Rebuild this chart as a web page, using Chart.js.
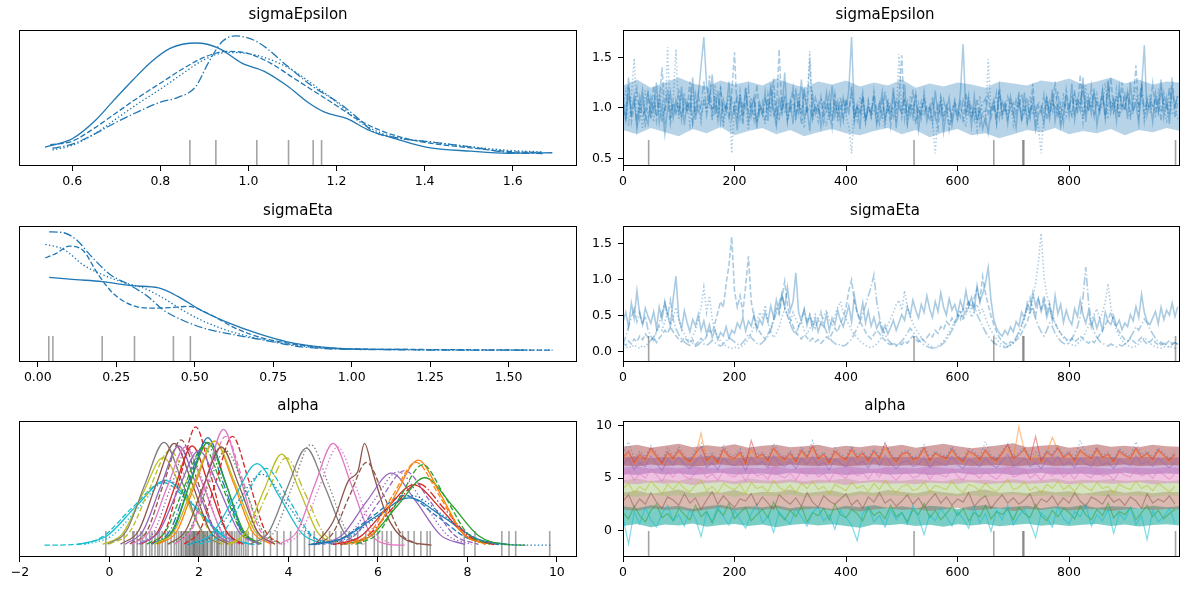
<!DOCTYPE html>
<html>
<head>
<meta charset="utf-8">
<script src="https://cdn.jsdelivr.net/npm/chart.js@4.4.1/dist/chart.umd.min.js"></script>
<style>
body { margin: 0; background: #fff; width: 1189px; height: 590px; overflow: hidden; position: relative; }
canvas { position: absolute; }
</style>
</head>
<body>
<canvas id="kdeEps" width="590" height="196" style="left:0;top:0"></canvas>
<canvas id="traceEps" width="599" height="196" style="left:590px;top:0"></canvas>
<canvas id="kdeEta" width="590" height="196" style="left:0;top:196px"></canvas>
<canvas id="traceEta" width="599" height="196" style="left:590px;top:196px"></canvas>
<canvas id="kdeAlpha" width="590" height="196" style="left:0;top:391px"></canvas>
<canvas id="traceAlpha" width="599" height="196" style="left:590px;top:391px"></canvas>
<script>
// draws kept every 5th iteration for the sigma traces, every 10th for alpha
const traceStep = 5
const alphaStep = 10
const bandStep = 25

const divergences = [46, 522, 665, 717, 719, 991]

const epsChain0 = [1.05,0.88,1.22,0.95,1.12,0.79,1.01,1.18,0.92,0.84, 1.10,0.97,1.25,0.86,1.03,0.74,0.99,1.15,0.90,1.08, 0.95,1.21,0.83,1.06,0.97,1.30,0.88,1.12,1.41,1.70, 1.22,1.05,1.33,0.93,1.17,0.85,1.08,0.96,1.26,0.89, 1.02,0.78,1.14,0.91,1.20,0.86,0.99,1.11,0.80,1.05, 0.93,1.16,0.87,1.24,0.98,0.82,1.09,0.95,1.35,0.90, 1.07,0.84,1.19,0.96,1.28,0.89,1.01,0.77,1.13,0.94, 1.04,0.81,0.97,1.15,0.88,1.22,0.92,1.06,0.85,1.10, 0.96,1.18,1.70,0.90,1.03,0.79,1.12,0.87,1.00,0.93, 1.09,0.83,0.98,1.16,0.86,1.04,0.91,1.20,0.80,1.07, 0.95,1.23,0.84,1.02,0.90,1.13,0.78,0.99,1.08,0.87, 1.01,0.85,1.17,0.92,1.06,0.76,0.97,1.10,0.83,1.00, 0.89,1.14,1.63,0.94,1.05,0.82,1.12,0.88,0.99,0.79, 0.91,0.75,0.98,1.08,0.86,1.18,0.93,1.02,0.84,1.11, 0.96,0.80,1.07,0.89,1.15,0.85,0.97,1.04,0.78,0.93, 1.00,0.84,1.09,0.90,1.18,0.87,1.03,0.81,0.95,1.12, 0.92,1.24,0.88,1.06,0.97,1.30,0.86,1.10,0.94,1.19, 0.83,1.02,1.16,0.90,1.27,0.95,1.08,0.87,1.21,0.99, 1.13,0.89,1.25,0.96,1.05,0.84,1.18,1.62,0.93,1.07, 0.86,1.15,0.98,1.28,0.91,1.09,0.84,1.20,1.02,1.12]
const epsChain1 = [1.12,0.95,1.30,0.86,1.02,1.19,0.90,1.08,0.81,1.14, 0.93,1.22,0.87,1.05,1.40,0.96,1.11,0.84,1.02,0.92, 1.18,0.88,1.06,0.97,1.26,0.85,1.01,1.15,0.91,1.07, 0.98,1.32,0.89,1.12,0.95,1.21,0.87,1.04,0.93,1.15, 1.55,0.91,1.08,0.83,1.19,0.96,1.03,0.88,1.23,0.94, 1.06,0.86,1.14,0.99,1.29,0.90,1.58,0.97,1.10,0.85, 1.03,1.20,0.92,1.08,0.84,1.16,0.95,1.48,0.89,1.02, 0.94,1.11,0.86,1.05,0.98,0.80,1.13,0.91,1.04,0.87, 1.09,0.93,1.21,0.85,1.01,0.96,1.15,0.88,1.06,0.92, 1.17,0.95,0.84,1.10,0.90,1.04,0.82,1.13,0.97,1.08, 1.52,0.89,1.06,0.93,1.18,0.85,1.00,0.91,1.12,0.96, 0.87,1.04,0.95,0.80,1.10,0.90,1.02,0.78,0.96,1.06, 0.92,1.08,0.85,1.15,0.94,1.01,0.88,1.09,0.83,0.96, 0.97,1.12,0.90,1.03,0.84,1.21,0.95,1.07,0.89,1.00, 1.05,0.93,1.16,0.87,0.99,1.10,0.91,1.24,0.86,1.02, 0.95,1.13,0.88,1.06,0.97,1.26,0.90,1.04,0.85,1.18, 1.00,0.93,1.14,0.98,1.33,0.89,1.09,0.96,1.21,0.91, 1.07,0.95,1.18,0.88,1.04,1.30,0.97,1.12,0.90,1.25, 0.98,1.16,0.93,1.07,1.42,0.96,1.20,0.91,1.05,0.99, 1.24,0.94,1.10,0.87,1.15,1.02,0.95,1.30,0.90,1.06]
const epsChain2 = [0.98,1.20,0.82,1.10,1.49,0.93,1.05,0.79,1.17,0.90, 1.03,0.86,1.12,0.95,1.20,0.84,1.60,0.91,1.08,1.58, 0.88,1.14,0.97,1.04,0.83,1.19,0.92,1.01,0.86,1.09, 0.95,1.11,0.87,1.23,0.90,1.06,0.81,0.99,1.13,0.55, 1.07,0.89,1.16,0.93,1.02,0.78,1.10,0.94,0.85,1.04, 0.97,0.83,1.09,0.91,1.18,0.86,1.03,0.95,1.12,0.89, 0.96,1.05,0.88,1.15,0.92,0.80,1.07,1.56,0.94,1.01, 0.87,1.10,0.95,0.82,1.03,0.91,1.14,0.86,0.98,1.06, 0.93,0.81,0.55,1.02,0.88,1.11,0.94,0.84,1.07,0.90, 0.99,0.87,1.05,0.92,0.80,1.09,0.95,1.01,0.86,1.53, 0.91,1.06,0.85,1.12,0.97,0.83,1.04,0.90,1.16,0.94, 1.01,0.88,0.55,0.96,1.10,0.89,1.03,0.82,0.97,1.08, 0.87,1.02,0.93,0.81,1.07,0.90,0.99,0.78,1.12,0.94, 0.85,1.48,0.96,1.05,0.91,1.16,0.88,1.01,0.94,1.10, 0.83,0.97,1.08,0.90,1.03,0.86,1.12,0.93,1.00,0.81, 0.55,0.96,1.06,0.89,1.11,0.94,1.02,0.87,1.15,0.92, 1.03,0.90,1.17,0.95,1.08,0.86,1.22,0.99,1.05,0.91, 1.13,0.96,1.02,1.25,0.89,1.07,0.94,1.18,0.90,1.04, 0.97,1.12,0.88,1.06,1.21,0.93,1.15,0.87,1.09,0.95, 1.04,0.90,1.19,0.96,1.08,0.85,1.13,0.93,1.01,0.89]
const epsChain3 = [1.01,0.87,1.14,0.93,1.06,0.84,1.10,0.91,0.98,1.17, 0.89,1.05,0.94,1.12,0.86,1.00,1.19,0.92,1.07,0.97, 1.03,0.90,1.15,0.96,1.08,0.85,1.13,0.94,1.02,1.27, 0.93,1.10,0.98,1.05,0.88,1.18,0.95,1.03,0.90,1.09, 0.96,1.13,0.89,1.04,0.99,1.20,0.92,1.07,0.86,1.01, 0.94,1.08,0.97,1.16,0.91,1.03,0.87,1.12,0.95,1.06, 0.98,1.14,0.90,1.05,0.93,1.19,0.96,1.02,0.88,1.10, 1.00,0.92,1.07,0.97,1.13,0.89,1.04,0.95,1.11,0.91, 1.06,0.98,1.15,0.90,1.02,0.94,1.09,0.87,1.01,0.96, 1.12,0.93,1.05,0.88,1.17,0.97,1.03,0.91,1.08,1.00, 0.95,1.10,0.92,1.04,0.98,1.14,0.89,1.06,0.94,1.02, 0.97,1.11,0.90,1.03,0.93,1.08,0.96,1.00,0.88,1.05, 0.99,0.91,1.07,0.95,1.13,0.92,1.01,0.87,0.97,1.04, 1.09,0.94,1.02,0.98,1.15,0.90,1.06,0.96,1.11,1.03, 0.93,1.08,1.00,1.14,0.95,1.04,0.91,1.10,0.97,1.06, 1.02,0.96,1.12,0.94,1.07,0.99,1.17,0.92,1.05,1.01, 0.98,1.13,0.95,1.09,1.03,1.20,0.96,1.06,1.00,1.15, 1.04,0.97,1.11,0.94,1.22,1.01,1.08,0.95,1.14,1.02, 0.99,1.16,1.05,0.97,1.10,1.03,1.25,0.98,1.07,1.12, 1.00,1.08,0.95,1.18,1.04,0.99,1.21,1.06,1.01,1.13]
// dense core of the four sigmaEpsilon chains (every 25th draw)
const epsCoreLow = [0.78,0.74,0.80,0.76,0.72,0.79,0.75,0.81,0.73,0.77,0.80,0.74,0.78,0.72,0.76,0.79,0.75,0.73,0.77,0.80,0.74,0.78,0.71,0.76,0.79,0.73,0.75,0.70,0.74,0.78,0.76,0.80,0.74,0.77,0.75,0.79,0.73,0.78,0.76,0.80,0.77]
const epsCoreHigh = [1.22,1.28,1.20,1.25,1.30,1.24,1.21,1.27,1.23,1.26,1.22,1.29,1.24,1.20,1.26,1.23,1.27,1.21,1.25,1.22,1.28,1.20,1.24,1.21,1.25,1.23,1.20,1.26,1.24,1.22,1.27,1.25,1.29,1.23,1.26,1.30,1.24,1.28,1.23,1.26,1.25]

const etaChain0 = [0.42,0.55,0.35,0.68,0.47,0.85,0.52,0.38,0.61,0.49, 0.40,0.56,0.33,0.62,0.45,0.70,0.51,0.36,0.74,1.05, 0.48,0.32,0.57,0.41,0.28,0.45,0.36,0.52,0.30,0.43, 0.25,0.38,0.20,0.31,0.17,0.27,0.22,0.35,0.19,0.30, 0.26,0.40,0.33,0.48,0.29,0.43,0.36,0.52,0.31,0.45, 0.38,0.55,0.42,0.64,0.48,0.72,0.56,0.80,0.62,0.90, 0.58,0.70,1.10,0.55,0.43,0.60,0.37,0.51,0.32,0.46, 0.28,0.41,0.35,0.52,0.30,0.47,0.38,0.58,0.44,0.35, 0.50,0.64,0.42,0.78,0.55,0.46,0.68,0.40,0.57,0.36, 0.48,0.33,0.42,0.28,0.37,0.25,0.34,0.44,0.30,0.41, 0.52,0.44,0.63,0.50,0.72,0.58,0.47,0.66,0.55,0.78, 0.60,0.48,0.70,0.56,0.82,0.62,0.51,0.74,0.58,0.66, 0.52,0.71,0.60,0.85,0.64,0.76,0.58,0.92,0.70,0.81, 0.95,1.17,0.72,0.45,0.33,0.26,0.22,0.30,0.24,0.35, 0.28,0.42,0.36,0.55,0.47,0.68,0.58,0.82,0.64,0.75, 0.56,0.70,0.48,0.62,0.44,0.78,0.53,0.66,0.41,0.58, 0.45,0.38,0.60,0.49,0.72,0.52,0.40,0.57,0.35,0.48, 0.33,0.46,0.30,0.55,0.42,0.38,0.50,0.36,0.44,0.31, 0.40,0.35,0.52,0.43,0.63,0.48,0.80,0.55,0.42,0.38, 0.47,0.56,0.39,0.62,0.45,0.58,0.51,0.68,0.49,0.63]
const etaChain1 = [0.12,0.09,0.15,0.11,0.18,0.14,0.22,0.17,0.25,0.20, 0.16,0.21,0.13,0.19,0.24,0.30,0.26,0.35,0.28,0.22, 0.18,0.14,0.20,0.16,0.12,0.17,0.10,0.14,0.19,0.15, 0.22,0.30,0.26,0.40,0.55,0.70,0.62,0.95,1.20,1.60, 0.85,0.62,0.78,0.55,0.92,1.33,0.70,0.48,0.35,0.28, 0.22,0.18,0.25,0.32,0.45,0.60,0.52,0.75,0.98,0.65, 0.45,0.36,0.28,0.22,0.18,0.24,0.20,0.15,0.19,0.14, 0.17,0.12,0.16,0.21,0.18,0.26,0.33,0.28,0.40,0.48, 0.62,0.85,1.00,0.70,0.55,0.42,0.35,0.28,0.22,0.18, 0.24,0.30,0.26,0.20,0.16,0.12,0.10,0.13,0.09,0.12, 0.10,0.15,0.12,0.18,0.22,0.17,0.14,0.19,0.15,0.20, 0.25,0.21,0.30,0.26,0.35,0.31,0.42,0.38,0.47,0.40, 0.52,0.45,0.60,0.55,0.68,0.62,0.75,0.88,0.70,1.05, 0.82,0.65,0.50,0.38,0.28,0.20,0.15,0.12,0.10,0.14, 0.12,0.16,0.20,0.26,0.35,0.42,0.55,0.62,0.50,0.72, 0.60,0.78,0.55,0.68,0.48,0.40,0.32,0.26,0.22,0.18, 0.15,0.19,0.14,0.17,0.22,0.18,0.15,0.12,0.16,0.13, 0.18,0.24,0.30,0.38,0.45,0.55,0.42,0.35,0.28,0.22, 0.17,0.14,0.19,0.15,0.12,0.16,0.20,0.15,0.11,0.14, 0.18,0.13,0.10,0.14,0.09,0.12,0.16,0.11,0.14,0.10]
const etaChain2 = [0.06,0.05,0.08,0.06,0.10,0.07,0.05,0.09,0.07,0.12, 0.15,0.20,0.28,0.35,0.30,0.42,0.55,0.38,0.47,0.62, 0.45,0.33,0.25,0.18,0.14,0.22,0.30,0.45,0.62,0.90, 0.55,0.78,0.45,0.30,0.21,0.15,0.11,0.08,0.06,0.05, 0.07,0.05,0.06,0.09,0.12,0.18,0.26,0.35,0.42,0.55, 0.48,0.65,0.40,0.28,0.20,0.26,0.35,0.48,0.60,0.52, 0.40,0.55,0.46,0.36,0.42,0.30,0.25,0.33,0.40,0.52, 0.45,0.38,0.48,0.58,0.44,0.36,0.50,0.62,0.70,0.55, 0.46,0.38,0.30,0.24,0.20,0.15,0.12,0.09,0.07,0.06, 0.08,0.11,0.16,0.22,0.30,0.38,0.46,0.55,0.66,0.72, 0.58,0.85,0.62,0.50,0.40,0.32,0.26,0.20,0.15,0.12, 0.09,0.07,0.06,0.08,0.11,0.15,0.20,0.28,0.35,0.42, 0.50,0.58,0.44,0.52,0.61,0.48,0.56,0.66,0.54,0.60, 0.47,0.38,0.30,0.24,0.18,0.13,0.10,0.08,0.07,0.09, 0.12,0.18,0.25,0.35,0.48,0.62,0.52,0.75,0.95,1.25, 1.65,1.05,0.80,0.65,0.52,0.40,0.32,0.25,0.20,0.16, 0.12,0.10,0.08,0.11,0.15,0.20,0.28,0.36,0.45,0.52, 0.60,0.45,0.55,0.70,0.95,0.62,0.42,0.30,0.22,0.16, 0.12,0.09,0.07,0.06,0.08,0.11,0.15,0.20,0.16,0.12, 0.09,0.07,0.06,0.05,0.07,0.06,0.08,0.06,0.05,0.06]
const etaChain3 = [0.10,0.22,0.35,0.48,0.60,0.42,0.55,0.38,0.50,0.30, 0.22,0.16,0.28,0.40,0.55,0.68,0.50,0.72,0.45,0.32, 0.24,0.18,0.14,0.11,0.09,0.12,0.08,0.10,0.14,0.11, 0.09,0.12,0.16,0.13,0.10,0.08,0.11,0.15,0.20,0.17, 0.14,0.11,0.09,0.13,0.18,0.25,0.20,0.16,0.12,0.10, 0.13,0.17,0.22,0.30,0.42,0.55,0.68,0.80,0.62,0.50, 0.38,0.30,0.24,0.35,0.46,0.58,0.42,0.52,0.40,0.33, 0.45,0.56,0.38,0.28,0.20,0.15,0.12,0.09,0.11,0.08, 0.10,0.14,0.18,0.25,0.33,0.42,0.52,0.65,0.78,0.90, 1.07,0.70,0.48,0.33,0.24,0.17,0.13,0.10,0.08,0.11, 0.15,0.20,0.26,0.33,0.28,0.22,0.17,0.13,0.10,0.08, 0.06,0.05,0.07,0.06,0.09,0.12,0.17,0.23,0.30,0.38, 0.46,0.55,0.48,0.62,0.70,0.58,0.66,0.52,0.44,0.36, 0.28,0.22,0.17,0.13,0.10,0.08,0.07,0.06,0.08,0.10, 0.14,0.20,0.28,0.38,0.50,0.62,0.75,0.58,0.46,0.36, 0.28,0.22,0.30,0.40,0.35,0.26,0.20,0.15,0.12,0.10, 0.13,0.18,0.26,0.35,0.50,0.75,1.18,0.68,0.42,0.28, 0.20,0.15,0.12,0.10,0.08,0.11,0.09,0.07,0.10,0.08, 0.11,0.15,0.20,0.27,0.35,0.30,0.38,0.46,0.40,0.32, 0.25,0.19,0.14,0.10,0.12,0.09,0.07,0.10,0.13,0.11]

// kernel density curves, [value, relative density]
const epsKde0 = [[0.538,0.06],[0.6,0.13],[0.651,0.28],[0.694,0.455],[0.737,0.625],[0.779,0.78],[0.822,0.895],[0.882,0.94],[0.933,0.895],[0.985,0.77],[1.036,0.70],[1.087,0.58],[1.138,0.43],[1.173,0.355],[1.224,0.30],[1.275,0.20],[1.335,0.13],[1.403,0.06],[1.506,0.025],[1.591,0.008],[1.69,0.012]]
const epsKde1 = [[0.55,0.08],[0.6,0.11],[0.65,0.22],[0.7,0.35],[0.75,0.48],[0.8,0.60],[0.85,0.72],[0.9,0.82],[0.95,0.87],[1.0,0.85],[1.05,0.77],[1.1,0.65],[1.15,0.53],[1.2,0.41],[1.25,0.29],[1.3,0.20],[1.35,0.14],[1.4,0.10],[1.5,0.055],[1.6,0.02],[1.665,0.015]]
const epsKde2 = [[0.555,0.035],[0.6,0.075],[0.65,0.17],[0.7,0.30],[0.75,0.43],[0.8,0.55],[0.85,0.68],[0.9,0.80],[0.95,0.86],[1.0,0.85],[1.05,0.80],[1.1,0.71],[1.15,0.58],[1.2,0.44],[1.25,0.28],[1.3,0.18],[1.35,0.13],[1.4,0.11],[1.5,0.065],[1.6,0.03],[1.665,0.02]]
const epsKde3 = [[0.555,0.05],[0.6,0.085],[0.65,0.17],[0.7,0.27],[0.75,0.36],[0.8,0.44],[0.84,0.48],[0.88,0.57],[0.91,0.78],[0.94,0.95],[0.97,1.0],[1.02,0.95],[1.087,0.75],[1.147,0.57],[1.207,0.43],[1.25,0.30],[1.284,0.19],[1.335,0.14],[1.42,0.10],[1.506,0.06],[1.59,0.015],[1.668,0.005]]
const etaKde0 = [[0.036,0.615],[0.12,0.597],[0.205,0.58],[0.30,0.545],[0.385,0.526],[0.446,0.455],[0.518,0.34],[0.60,0.24],[0.70,0.142],[0.795,0.071],[0.90,0.028],[1.02,0.009],[1.18,0.006]]
const etaKde1 = [[0.024,0.78],[0.06,0.82],[0.10,0.88],[0.145,0.84],[0.19,0.65],[0.24,0.48],[0.30,0.38],[0.36,0.355],[0.42,0.36],[0.48,0.37],[0.55,0.30],[0.63,0.185],[0.72,0.10],[0.84,0.043],[0.96,0.014],[1.2,0.006],[1.64,0.0]]
const etaKde2 = [[0.024,0.895],[0.084,0.85],[0.145,0.72],[0.205,0.64],[0.277,0.57],[0.337,0.525],[0.40,0.44],[0.46,0.34],[0.52,0.255],[0.60,0.17],[0.70,0.10],[0.82,0.043],[0.96,0.011],[1.64,0.0]]
const etaKde3 = [[0.036,1.0],[0.078,0.995],[0.12,0.94],[0.17,0.795],[0.23,0.64],[0.29,0.555],[0.35,0.455],[0.40,0.34],[0.46,0.255],[0.53,0.185],[0.63,0.128],[0.72,0.085],[0.84,0.028],[1.02,0.006],[1.57,0.0]]

// values of the divergent draws (rug under the densities)
const epsRug = [0.867, 0.926, 1.019, 1.091, 1.147, 1.166]
const etaRug = [0.035, 0.048, 0.205, 0.308, 0.432, 0.486]
const alphaRug = [-0.08,0.33,0.52,0.55,0.62,0.7,0.74,0.82,0.9,0.95,1.02,1.08,1.12,1.18,1.25,1.3,1.38,1.45,1.5,1.55,1.6,1.62,1.66,1.7,1.72,1.75,1.78,1.8,1.83,1.86,1.88,1.9,1.92,1.95,1.97,2.0,2.02,2.05,2.08,2.1,2.12,2.15,2.18,2.2,2.25,2.28,2.3,2.35,2.4,2.42,2.45,2.5,2.55,2.6,2.62,2.68,2.72,2.75,2.8,2.85,2.9,2.95,3.0,3.05,3.1,3.2,3.3,3.45,3.6,3.75,3.9,4.05,4.2,4.36,4.47,4.58,4.77,4.92,5.06,5.18,5.36,5.55,5.73,5.92,6.0,6.1,6.2,6.3,6.48,6.55,6.68,6.81,6.96,7.1,7.17,7.93,8.17,8.77,8.93,9.08,9.84]

// alpha densities: one curve per parameter and chain
const alphaKde = [
  [[-0.7,0.005],[-0.05,0.08],[0.6,0.33],[1.25,0.545],[1.9,0.33],[2.55,0.08],[3.2,0.005]],
  [[-1.45,0.0],[-0.84,0.005],[-0.16,0.07],[0.52,0.32],[1.2,0.53],[1.88,0.32],[2.56,0.07],[3.24,0.005]],
  [[-0.56,0.005],[0.06,0.08],[0.68,0.33],[1.3,0.55],[1.92,0.33],[2.54,0.08],[3.16,0.005]],
  [[-0.15,0.007],[0.3,0.10],[0.75,0.44],[1.2,0.74],[1.65,0.44],[2.1,0.10],[2.55,0.007]],
  [[0.0,0.008],[0.45,0.11],[0.9,0.48],[1.35,0.80],[1.8,0.48],[2.25,0.11],[2.7,0.008]],
  [[-0.04,0.009],[0.38,0.12],[0.8,0.52],[1.22,0.87],[1.64,0.52],[2.06,0.12],[2.48,0.009]],
  [[0.25,0.009],[0.65,0.12],[1.05,0.52],[1.45,0.86],[1.85,0.52],[2.25,0.12],[2.65,0.009]],
  [[0.46,0.009],[0.84,0.12],[1.22,0.53],[1.6,0.89],[1.98,0.53],[2.36,0.12],[2.74,0.009]],
  [[0.35,0.008],[0.75,0.12],[1.15,0.5],[1.55,0.84],[1.95,0.5],[2.35,0.12],[2.75,0.008]],
  [[0.61,0.008],[0.99,0.11],[1.37,0.49],[1.75,0.82],[2.13,0.49],[2.51,0.11],[2.89,0.008]],
  [[0.5,0.008],[0.9,0.12],[1.3,0.5],[1.7,0.83],[2.1,0.5],[2.5,0.12],[2.9,0.008]],
  [[0.94,0.01],[1.27,0.14],[1.6,0.6],[1.93,1.0],[2.26,0.6],[2.59,0.14],[2.92,0.01]],
  [[0.71,0.008],[1.09,0.12],[1.47,0.5],[1.85,0.84],[2.23,0.5],[2.61,0.12],[2.99,0.008]],
  [[1.06,0.009],[1.44,0.13],[1.82,0.55],[2.2,0.91],[2.58,0.55],[2.96,0.13],[3.34,0.009]],
  [[0.95,0.009],[1.35,0.12],[1.75,0.52],[2.15,0.87],[2.55,0.52],[2.95,0.12],[3.35,0.009]],
  [[1.0,0.009],[1.4,0.12],[1.8,0.52],[2.2,0.87],[2.6,0.52],[3.0,0.12],[3.4,0.009]],
  [[0.84,0.008],[1.26,0.12],[1.68,0.5],[2.1,0.83],[2.52,0.5],[2.94,0.12],[3.36,0.008]],
  [[1.09,0.009],[1.51,0.12],[1.93,0.53],[2.35,0.88],[2.77,0.53],[3.19,0.12],[3.61,0.009]],
  [[1.0,0.009],[1.45,0.12],[1.9,0.53],[2.35,0.88],[2.8,0.53],[3.25,0.12],[3.7,0.009]],
  [[1.47,0.01],[1.83,0.14],[2.19,0.59],[2.55,0.98],[2.91,0.59],[3.27,0.14],[3.63,0.01]],
  [[1.46,0.009],[1.84,0.13],[2.22,0.55],[2.6,0.92],[2.98,0.55],[3.36,0.13],[3.74,0.009]],
  [[1.3,0.008],[1.7,0.12],[2.1,0.5],[2.5,0.83],[2.9,0.5],[3.3,0.12],[3.7,0.008]],
  [[1.67,0.009],[2.03,0.13],[2.39,0.55],[2.75,0.92],[3.11,0.55],[3.47,0.13],[3.83,0.009]],
  [[1.34,0.008],[1.76,0.11],[2.18,0.48],[2.6,0.8],[3.02,0.48],[3.44,0.11],[3.86,0.008]],
  [[0.65,0.008],[1.1,0.11],[1.55,0.48],[2.0,0.8],[2.45,0.48],[2.9,0.11],[3.35,0.008]],
  [[1.8,0.007],[2.3,0.1],[2.8,0.41],[3.3,0.69],[3.8,0.41],[4.3,0.1],[4.8,0.007]],
  [[2.0,0.007],[2.5,0.09],[3.0,0.39],[3.5,0.65],[4.0,0.39],[4.5,0.09],[5.0,0.007]],
  [[1.75,0.006],[2.3,0.08],[2.85,0.36],[3.4,0.6],[3.95,0.36],[4.5,0.08],[5.05,0.006]],
  [[2.65,0.008],[3.05,0.11],[3.45,0.46],[3.85,0.77],[4.25,0.46],[4.65,0.11],[5.05,0.008]],
  [[2.69,0.007],[3.11,0.1],[3.53,0.44],[3.95,0.74],[4.37,0.44],[4.79,0.1],[5.21,0.007]],
  [[3.14,0.008],[3.56,0.11],[3.98,0.49],[4.4,0.82],[4.82,0.49],[5.24,0.11],[5.66,0.008]],
  [[3.3,0.008],[3.7,0.12],[4.1,0.51],[4.5,0.85],[4.9,0.51],[5.3,0.12],[5.7,0.008]],
  [[3.8,0.009],[4.2,0.12],[4.6,0.52],[5.0,0.86],[5.4,0.52],[5.8,0.12],[6.2,0.009],[6.6,0.0]],
  [[3.9,0.008],[4.3,0.12],[4.7,0.5],[5.1,0.83],[5.5,0.5],[5.9,0.12],[6.3,0.008]],
  [[4.6,0.005],[5.0,0.2],[5.35,0.55],[5.55,0.62],[5.7,0.86],[5.9,0.6],[6.2,0.25],[6.6,0.05],[7.2,0.0]],
  [[4.61,0.007],[4.99,0.1],[5.37,0.42],[5.75,0.7],[6.13,0.42],[6.51,0.1],[6.89,0.007]],
  [[4.65,0.006],[5.2,0.085],[5.75,0.37],[6.3,0.61],[6.85,0.37],[7.4,0.085],[7.95,0.006]],
  [[4.8,0.006],[5.35,0.087],[5.9,0.37],[6.45,0.62],[7.0,0.37],[7.55,0.087],[8.1,0.006]],
  [[4.95,0.006],[5.5,0.088],[6.05,0.38],[6.6,0.63],[7.15,0.38],[7.7,0.088],[8.25,0.006]],
  [[4.45,0.004],[5.2,0.056],[5.95,0.24],[6.7,0.4],[7.45,0.24],[8.2,0.056],[8.95,0.004]],
  [[4.5,0.004],[5.2,0.06],[5.9,0.25],[6.6,0.42],[7.3,0.25],[8.0,0.06],[8.7,0.004]],
  [[5.0,0.005],[5.6,0.07],[6.2,0.31],[6.8,0.51],[7.4,0.31],[8.0,0.07],[8.6,0.005]],
  [[5.16,0.005],[5.74,0.07],[6.32,0.31],[6.9,0.52],[7.48,0.31],[8.06,0.07],[8.64,0.005]],
  [[5.25,0.006],[5.85,0.08],[6.45,0.34],[7.05,0.57],[7.65,0.34],[8.25,0.08],[8.85,0.006],[9.3,0.0]],
  [[5.4,0.007],[5.9,0.1],[6.4,0.43],[6.9,0.72],[7.4,0.43],[7.9,0.1],[8.4,0.007]],
  [[5.29,0.007],[5.81,0.1],[6.33,0.42],[6.85,0.7],[7.37,0.42],[7.89,0.1],[8.41,0.007]],
  [[5.5,0.007],[6.0,0.1],[6.5,0.41],[7.0,0.68],[7.5,0.41],[8.0,0.1],[8.5,0.007]],
  [[4.59,0.004],[5.31,0.06],[6.03,0.25],[6.75,0.42],[7.47,0.25],[8.19,0.06],[8.91,0.004],[9.9,0.0]]
]
// which alpha component (colour cycle position) and which chain each curve is
const alphaKdeParam = [9,9,9,8,8,7,5,5,4,4,6,3,3,0,0,2,2,1,8,6,6,5,3,2,4,9,9,0,8,8,7,7,6,6,5,5,4,4,4,0,0,3,3,2,1,1,2,0]
const alphaKdeChain = [0,1,2,0,1,0,0,1,0,2,0,1,0,0,3,0,1,0,0,0,1,0,1,2,0,0,1,2,0,3,0,2,0,2,0,1,0,2,1,0,1,0,3,0,0,1,1,2]

// alpha traces: envelopes of the dense bands (every 25th draw) and single chains (every 10th draw)
const bandTealLow = [0.4,0.6,0.3,0.55,0.45,0.65,0.35,0.5,0.6,0.4,0.55,0.3,0.5,0.62,0.45,0.58,0.4,0.25,0.55,0.48,0.6,0.4,0.52,0.35,0.58,0.46,0.6,0.38,0.5,0.62,0.44,0.56,0.4,0.53,0.6,0.42,0.55,0.36,0.5,0.58,0.45]
const bandTealHigh = [2.3,2.1,2.4,2.2,2.35,2.05,2.3,2.45,2.15,2.3,2.2,2.4,2.1,2.3,2.25,2.05,2.35,2.2,2.4,2.15,2.3,2.1,2.35,2.25,2.05,2.3,2.4,2.15,2.25,2.35,2.1,2.3,2.2,2.4,2.15,2.3,2.25,2.1,2.35,2.2,2.3]
const bandRedLow = [2.0,1.85,2.1,1.95,2.05,1.8,2.0,2.15,1.9,2.05,1.95,2.1,1.85,2.0,2.1,1.9,2.05,1.8,2.0,2.1,1.95,2.05,1.85,2.0,2.15,1.9,2.0,2.1,1.85,2.05,1.95,2.1,1.9,2.0,2.05,1.85,2.0,2.1,1.95,2.05,2.0]
const bandRedHigh = [3.6,3.8,3.5,3.7,3.9,3.55,3.75,3.6,3.85,3.5,3.7,3.65,3.9,3.55,3.7,3.8,3.5,3.75,3.6,3.85,3.7,3.55,3.8,3.65,3.5,3.75,3.9,3.6,3.7,3.55,3.8,3.65,3.75,3.5,3.7,3.85,3.6,3.75,3.55,3.7,3.65]
const bandOliveLow = [3.3,3.2,3.4,3.25,3.35,3.15,3.3,3.45,3.2,3.35,3.3,3.25,3.4,3.2,3.35,3.3,3.15,3.4,3.25,3.35,3.3,3.2,3.4,3.3,3.25,3.35,3.2,3.3,3.4,3.25,3.3,3.35,3.2,3.4,3.3,3.25,3.35,3.3,3.2,3.35,3.3]
const bandOliveHigh = [4.8,4.95,4.7,4.9,4.75,5.0,4.8,4.85,4.7,4.95,4.8,4.75,4.9,4.7,4.85,4.8,4.95,4.7,4.85,4.8,4.75,4.9,4.8,4.7,4.95,4.8,4.85,4.7,4.9,4.75,4.8,4.95,4.7,4.85,4.8,4.9,4.75,4.8,4.85,4.7,4.8]
const bandPinkLow = [4.5,4.4,4.6,4.45,4.55,4.35,4.5,4.6,4.4,4.55,4.5,4.45,4.6,4.4,4.5,4.55,4.35,4.5,4.6,4.45,4.5,4.4,4.55,4.5,4.45,4.6,4.4,4.5,4.55,4.45,4.5,4.6,4.4,4.5,4.55,4.45,4.5,4.6,4.4,4.5,4.5]
const bandPinkHigh = [6.0,6.1,5.9,6.05,5.95,6.1,6.0,5.9,6.05,6.0,5.95,6.1,5.9,6.0,6.05,5.95,6.1,6.0,5.9,6.05,6.0,5.95,6.1,6.0,5.9,6.05,5.95,6.0,6.1,5.9,6.0,6.05,5.95,6.1,6.0,5.9,6.05,6.0,5.95,6.05,6.0]
const bandPurpleLow = [5.4,5.3,5.5,5.35,5.45,5.3,5.4,5.5,5.35,5.4,5.45,5.3,5.5,5.4,5.35,5.45,5.3,5.4,5.5,5.35,5.4,5.45,5.3,5.4,5.5,5.35,5.4,5.45,5.3,5.4,5.5,5.35,5.4,5.45,5.3,5.4,5.5,5.35,5.4,5.45,5.4]
const bandPurpleHigh = [7.0,7.1,6.9,7.05,7.0,6.95,7.1,7.0,6.9,7.05,7.0,7.1,6.95,7.0,7.05,6.9,7.0,7.1,7.0,6.95,7.05,7.0,6.9,7.1,7.0,6.95,7.05,7.0,7.1,6.9,7.0,7.05,6.95,7.0,7.1,7.0,6.9,7.05,7.0,6.95,7.0]
const bandTopLow = [6.2,6.1,6.3,6.15,6.25,6.1,6.2,6.3,6.15,6.2,6.25,6.1,6.3,6.2,6.15,6.25,6.1,6.2,6.3,6.15,6.2,6.25,6.1,6.2,6.3,6.15,6.2,6.25,6.1,6.2,6.3,6.15,6.2,6.25,6.1,6.2,6.3,6.15,6.2,6.25,6.2]
const bandTopHigh = [8.0,8.2,7.9,8.1,8.3,7.95,8.15,8.0,8.25,7.9,8.1,8.2,7.95,8.05,8.2,7.9,8.1,7.95,8.15,8.0,8.2,7.9,8.1,8.3,8.05,7.85,8.0,8.15,8.35,7.95,8.1,8.2,7.9,8.05,8.25,8.0,8.1,7.95,8.2,8.05,8.0]

const alphaCyan = [1.2,-1.3,1.8,0.6,2.2,1.0,0.3,1.6,2.4,0.9, 1.5,0.4,2.0,1.1,-0.6,1.7,0.8,2.3,1.3,0.5, 1.9,1.0,0.2,1.6,2.5,0.7,1.4,-0.2,1.8,1.1, 0.6,2.1,1.3,0.4,1.7,2.2,0.9,1.5,0.1,1.9, 1.2,0.5,-1.0,1.6,2.3,0.8,1.4,0.3,2.0,1.0, 1.7,0.6,2.4,1.2,-0.4,1.5,0.9,2.1,1.3,0.4, 1.8,1.1,0.2,2.2,0.7,1.6,-0.1,1.9,1.0,2.4, 0.5,1.4,2.0,0.8,-0.7,1.7,1.2,0.3,2.3,1.1, 0.6,1.8,1.3,2.5,0.4,1.5,0.9,2.0,-0.3,1.6, 1.0,2.2,0.5,1.4,-0.9,1.9,0.8,1.3,2.1,0.7]
const alphaGreen = [1.7,1.1,2.3,1.4,0.8,1.9,2.5,1.2,1.6,0.9, 2.1,1.5,1.0,2.4,1.3,1.8,0.7,2.0,1.4,2.6, 1.1,1.7,2.2,0.9,1.5,2.0,1.2,2.7,1.6,1.0, 1.9,1.3,2.3,0.8,1.7,1.4,2.1,1.0,2.5,1.5, 1.2,2.0,1.6,0.9,2.2,1.4,1.8,1.1,2.4,1.3, 1.7,0.8,2.0,1.5,2.6,1.2,1.9,1.0,1.6,2.3, 1.4,2.1,0.9,1.7,1.3,2.4,1.1,1.8,1.5,2.0, 1.0,2.2,1.6,1.2,2.5,1.4,0.9,1.9,1.3,2.1, 1.7,1.1,2.3,1.5,1.0,2.0,1.4,2.6,1.2,1.8, 1.5,2.2,1.0,1.7,2.4,1.3,1.9,1.1,1.6,2.0]
const alphaBrown = [2.8,3.4,2.2,3.0,2.5,3.6,2.7,2.1,3.2,2.9, 2.4,3.5,2.6,3.1,2.0,2.9,3.7,2.5,3.3,2.7, 2.2,3.0,2.8,3.5,2.4,3.2,2.6,2.0,3.4,2.9, 2.5,3.1,2.3,3.6,2.7,2.2,3.3,2.8,2.5,3.0, 3.5,2.4,2.9,2.1,3.2,2.7,3.6,2.6,3.0,2.3, 2.8,3.4,2.5,3.1,2.2,2.9,3.5,2.6,3.2,2.4, 3.0,2.7,3.6,2.3,2.9,3.3,2.1,2.8,3.4,2.6, 3.1,2.5,2.9,3.5,2.2,3.0,2.7,3.3,2.4,3.1, 2.6,3.6,2.8,2.3,3.2,2.9,2.5,3.4,2.7,3.0, 2.4,3.2,2.8,2.1,3.5,2.6,3.0,2.7,3.3,2.5]
const alphaOlive = [4.0,4.5,3.6,4.2,3.8,4.7,4.1,3.5,4.4,3.9, 4.6,4.0,3.7,4.3,4.8,3.8,4.2,3.6,4.5,4.1, 3.9,4.4,3.5,4.6,4.0,4.2,3.7,4.8,4.1,3.8, 4.3,3.6,4.5,4.0,4.7,3.9,4.2,3.5,4.4,4.1, 3.8,4.6,4.0,4.3,3.7,4.5,3.9,4.8,4.1,3.6, 4.2,4.4,3.8,4.0,4.6,3.7,4.3,4.1,3.9,4.7, 4.0,3.6,4.4,4.2,3.8,4.5,4.0,3.7,4.3,4.9, 3.9,4.1,4.6,3.8,4.2,3.6,4.4,4.0,4.7,3.9, 4.3,3.7,4.5,4.1,3.8,4.6,4.0,4.2,3.6,4.4, 4.1,3.9,4.7,4.0,4.3,3.8,4.5,4.1,3.7,4.2]
const alphaPink = [5.2,5.7,4.8,5.4,5.0,5.9,5.3,4.7,5.6,5.1, 5.8,5.2,4.9,5.5,6.0,5.0,5.4,4.8,5.7,5.3, 5.1,5.6,4.7,5.8,5.2,5.4,4.9,6.0,5.3,5.0, 5.5,4.8,5.7,5.2,5.9,5.1,5.4,4.7,5.6,5.3, 5.0,5.8,5.2,5.5,4.9,5.7,5.1,6.0,5.3,4.8, 5.4,5.6,5.0,5.2,5.8,4.9,5.5,5.3,5.1,5.9, 5.2,4.8,5.6,5.4,5.0,5.7,5.2,4.9,5.5,6.1, 5.1,5.3,5.8,5.0,5.4,4.8,5.6,5.2,5.9,5.1, 5.5,4.9,5.7,5.3,5.0,5.8,5.2,5.4,4.8,5.6, 5.3,5.1,5.9,5.2,5.5,5.0,5.7,5.3,4.9,5.4]
const alphaPurple = [6.3,6.9,5.8,6.5,6.1,7.1,6.4,5.7,6.8,6.2, 7.0,6.3,5.9,6.6,7.2,6.0,6.5,5.8,6.9,6.4, 6.2,6.7,5.7,7.0,6.3,6.6,6.0,7.2,6.4,6.1, 6.6,5.9,6.9,6.3,7.1,6.2,6.5,5.8,6.8,6.4, 6.1,7.0,6.3,6.6,6.0,6.9,6.2,7.2,6.4,5.9, 6.5,6.7,6.1,6.3,7.0,6.0,6.6,6.4,6.2,7.1, 6.3,5.9,6.8,6.5,6.1,6.9,6.3,6.0,6.6,7.3, 6.2,6.4,7.0,6.1,6.5,5.9,6.8,6.3,7.1,6.2, 6.6,6.0,6.9,6.4,6.1,7.0,6.3,6.5,5.9,6.8, 6.4,6.2,7.1,6.3,6.6,6.1,6.9,6.4,6.0,6.5]
const alphaRed = [7.0,7.6,6.5,7.3,6.8,7.9,7.1,6.4,7.5,6.9, 7.7,7.0,6.6,7.4,8.0,6.7,7.2,6.5,7.8,7.1, 6.9,7.5,6.4,8.6,7.0,7.3,6.7,7.9,7.2,6.8, 7.4,6.6,7.7,7.0,8.1,6.9,7.3,6.5,7.6,7.1, 6.8,7.8,7.0,7.4,6.7,7.6,6.9,8.3,7.2,6.6, 7.3,7.5,6.8,7.0,7.9,6.7,7.4,7.1,6.9,7.8, 7.0,6.6,7.6,7.3,6.8,7.7,7.0,6.7,7.4,8.2, 6.9,7.2,7.8,6.8,9.0,6.6,7.5,7.1,7.9,7.0, 7.4,6.7,7.7,7.2,6.9,7.8,7.0,7.3,6.6,7.6, 7.2,6.9,7.9,7.0,7.4,6.8,7.7,7.2,6.7,7.3]
const alphaBlue = [7.3,8.5,6.8,7.6,7.0,8.1,7.4,6.6,7.9,7.1, 8.0,7.2,6.8,7.7,8.4,6.9,7.5,6.7,8.2,7.3, 7.1,7.8,6.6,8.0,7.2,7.5,6.9,8.3,7.4,7.0, 7.6,6.8,8.0,7.2,8.6,7.1,7.5,6.7,7.9,7.3, 7.0,8.1,7.2,7.6,6.9,7.8,7.1,8.4,7.4,6.8, 7.5,7.7,7.0,7.2,8.2,6.9,7.6,7.3,7.1,8.0, 7.2,6.8,7.9,7.5,7.0,8.5,7.2,6.9,7.6,8.3, 7.1,7.4,8.0,7.0,7.5,6.8,7.7,7.3,8.1,7.2, 7.6,6.9,8.6,7.4,7.1,8.0,7.2,7.5,6.8,7.8, 7.4,7.1,8.5,7.2,7.6,7.0,7.9,7.4,6.9,7.5]
const alphaOrange = [6.9,7.4,6.4,7.1,6.7,7.7,7.0,6.3,7.3,6.8, 7.5,6.9,6.5,7.2,9.3,6.6,7.1,6.4,7.6,7.0, 6.8,7.3,6.3,7.7,6.9,7.2,6.6,7.8,7.0,6.7, 7.2,6.5,7.5,6.9,7.9,6.8,7.2,6.4,7.4,7.0, 6.7,7.6,6.9,7.3,6.6,7.5,6.8,7.9,7.1,6.5, 7.2,7.4,6.7,6.9,7.7,6.6,7.3,7.0,6.8,7.6, 6.9,6.5,7.4,7.2,6.7,7.5,6.9,6.6,7.3,7.8, 6.8,9.9,7.6,6.7,7.2,6.5,7.4,8.9,7.7,6.9, 7.3,6.6,7.5,7.1,6.8,7.6,6.9,7.2,6.5,7.4, 7.1,6.8,7.7,6.9,7.3,6.7,7.6,7.1,6.6,7.2]

// axes: limits and tick labels
const epsKdeTicks = [0.6, 0.8, 1.0, 1.2, 1.4, 1.6]
const epsKdeLabels = ['0.6', '0.8', '1.0', '1.2', '1.4', '1.6']
const etaKdeTicks = [0, 0.25, 0.5, 0.75, 1.0, 1.25, 1.5]
const etaKdeLabels = ['0.00', '0.25', '0.50', '0.75', '1.00', '1.25', '1.50']
const alphaKdeTicks = [-2, 0, 2, 4, 6, 8, 10]
const alphaKdeLabels = ['\u22122', '0', '2', '4', '6', '8', '10']
const iterTicks = [0, 200, 400, 600, 800]
const iterLabels = ['0', '200', '400', '600', '800']
const epsTraceTicks = [0.5, 1.0, 1.5]
const epsTraceLabels = ['0.5', '1.0', '1.5']
const etaTraceTicks = [0, 0.5, 1.0, 1.5]
const etaTraceLabels = ['0.0', '0.5', '1.0', '1.5']
const alphaTraceTicks = [0, 5, 10]
const alphaTraceLabels = ['0', '5', '10']

const FONT = "'DejaVu Sans', sans-serif"
const tab10 = ['#1f77b4','#ff7f0e','#2ca02c','#d62728','#9467bd','#8c564b','#e377c2','#7f7f7f','#bcbd22','#17becf']
const chainDash = [[], [5.5, 2.4], [1.4, 2.3], [8.5, 2.4, 1.4, 2.4]]
const faintBlue = 'rgba(31,119,180,0.38)'
const rugColor = 'rgba(0,0,0,0.36)'

const frame = {
    id: 'frame',
    afterDraw(chart) {
        const a = chart.chartArea, ctx = chart.ctx
        ctx.save()
        ctx.strokeStyle = '#000'
        ctx.lineWidth = 1
        ctx.strokeRect(Math.round(a.left) + 0.5, Math.round(a.top) + 0.5, Math.round(a.right - a.left) - 1, Math.round(a.bottom - a.top) - 1)
        ctx.restore()
    }
}

function scale(s, dir) {
    return {
        type: 'linear', display: s.show !== false, min: s.min, max: s.max,
        afterFit(sc) {
            if (s.show === false) return
            if (dir === 'x') sc.height = 30; else sc.width = 33
        },
        afterBuildTicks(sc) { if (s.ticks) sc.ticks = s.ticks.map(v => ({ value: v })) },
        ticks: {
            callback: (v, i) => (s.labels ? s.labels[i] : ''), color: '#000', autoSkip: false, maxRotation: 0,
            font: { family: FONT, size: 12.5 }, padding: dir === 'x' ? 3 : 6
        },
        grid: { drawOnChartArea: false, drawTicks: true, tickLength: 5, tickColor: '#000', lineWidth: 1 },
        border: { display: false }
    }
}

function makeChart(id, title, xs, ys, datasets, padLeft, padRight) {
    datasets.forEach((d, i) => { if (d.order === undefined) d.order = -i })
    return new Chart(document.getElementById(id), {
        type: 'line',
        data: { datasets: datasets },
        options: {
            responsive: false, animation: false, devicePixelRatio: 1,
            layout: { padding: { left: padLeft, right: padRight, top: 0, bottom: 0 }, autoPadding: false },
            plugins: {
                legend: { display: false }, tooltip: { enabled: false },
                title: { display: true, text: title, color: '#000', font: { family: FONT, size: 15, weight: 'normal' }, padding: { top: 6, bottom: 6 } }
            },
            scales: { x: scale(xs, 'x'), y: scale(ys, 'y') }
        },
        plugins: [frame]
    })
}

function kdeSet(pts, color, chain) {
    return {
        data: pts.map(p => ({ x: p[0], y: p[1] })), borderColor: color, borderWidth: 1.3,
        borderDash: chainDash[chain], pointRadius: 0, cubicInterpolationMode: 'monotone', fill: false, clip: 0
    }
}

function traceSet(values, step, color, chain, width) {
    return {
        data: values.map((v, i) => ({ x: i * step, y: v })), borderColor: color, borderWidth: width,
        borderDash: chainDash[chain], pointRadius: 0, tension: 0, fill: false, clip: 0
    }
}

function rugSet(values, y, order) {
    return {
        data: values.map(v => ({ x: v, y: y })), showLine: false, pointStyle: 'line', pointRotation: 90,
        pointRadius: 26, pointBorderColor: rugColor, pointBackgroundColor: rugColor, pointBorderWidth: 1.6,
        borderColor: rugColor, clip: 0, order: order
    }
}

function bandSet(high, low, color) {
    return [
        { data: high.map((v, i) => ({ x: i * bandStep, y: v })), borderWidth: 0, borderColor: 'rgba(0,0,0,0)', backgroundColor: color, fill: '+1', pointRadius: 0, clip: 0 },
        { data: low.map((v, i) => ({ x: i * bandStep, y: v })), borderWidth: 0, borderColor: 'rgba(0,0,0,0)', fill: false, pointRadius: 0, clip: 0 }
    ]
}

const kdeY = { min: -0.1, max: 1.05, show: false }

// sigmaEpsilon
makeChart('kdeEps', 'sigmaEpsilon',
    { min: 0.479, max: 1.746, ticks: epsKdeTicks, labels: epsKdeLabels }, kdeY,
    [rugSet(epsRug, -0.1, 100)].concat([epsKde0, epsKde1, epsKde2, epsKde3].map((k, c) => kdeSet(k, tab10[0], c))), 19, 13)

makeChart('traceEps', 'sigmaEpsilon',
    { min: 0, max: 999, ticks: iterTicks, labels: iterLabels },
    { min: 0.425, max: 1.77, ticks: epsTraceTicks, labels: epsTraceLabels },
    bandSet(epsCoreHigh, epsCoreLow, 'rgba(31,119,180,0.32)')
        .concat([epsChain0, epsChain1, epsChain2, epsChain3].map((ch, c) => traceSet(ch, traceStep, faintBlue, c, 1.5)))
        .concat([rugSet(divergences, 0.425, -1000)]), 0, 9)

// sigmaEta
makeChart('kdeEta', 'sigmaEta',
    { min: -0.06, max: 1.718, ticks: etaKdeTicks, labels: etaKdeLabels }, kdeY,
    [rugSet(etaRug, -0.1, 100)].concat([etaKde0, etaKde1, etaKde2, etaKde3].map((k, c) => kdeSet(k, tab10[0], c))), 19, 13)

makeChart('traceEta', 'sigmaEta',
    { min: 0, max: 999, ticks: iterTicks, labels: iterLabels },
    { min: -0.14, max: 1.75, ticks: etaTraceTicks, labels: etaTraceLabels },
    [etaChain0, etaChain1, etaChain2, etaChain3].map((ch, c) => traceSet(ch, traceStep, faintBlue, c, 1.6))
        .concat([rugSet(divergences, -0.14, -1000)]), 0, 9)

// alpha
makeChart('kdeAlpha', 'alpha',
    { min: -2.02, max: 10.45, ticks: alphaKdeTicks, labels: alphaKdeLabels }, kdeY,
    [rugSet(alphaRug, -0.1, 100)].concat(alphaKde.map((k, i) => kdeSet(k, tab10[alphaKdeParam[i]], alphaKdeChain[i]))), 19, 13)

const alphaTraceSets = []
    .concat(bandSet(bandTealHigh, bandTealLow, 'rgba(50,180,168,0.65)'))
    .concat(bandSet(bandRedHigh, bandRedLow, 'rgba(170,100,80,0.45)'))
    .concat(bandSet(bandOliveHigh, bandOliveLow, 'rgba(160,195,120,0.45)'))
    .concat(bandSet(bandPinkHigh, bandPinkLow, 'rgba(220,120,190,0.45)'))
    .concat(bandSet(bandPurpleHigh, bandPurpleLow, 'rgba(150,90,170,0.45)'))
    .concat(bandSet(bandTopHigh, bandTopLow, 'rgba(175,85,85,0.55)'))
    .concat([
        traceSet(alphaGreen, alphaStep, 'rgba(44,160,44,0.5)', 0, 1.2),
        traceSet(alphaCyan, alphaStep, 'rgba(23,190,207,0.55)', 0, 1.2),
        traceSet(alphaBrown, alphaStep, 'rgba(140,86,75,0.5)', 0, 1.2),
        traceSet(alphaOlive, alphaStep, 'rgba(188,189,34,0.5)', 0, 1.2),
        traceSet(alphaPink, alphaStep, 'rgba(227,119,194,0.5)', 0, 1.2),
        traceSet(alphaPurple, alphaStep, 'rgba(148,103,189,0.5)', 0, 1.2),
        traceSet(alphaBlue, alphaStep, 'rgba(31,119,180,0.45)', 2, 1.2),
        traceSet(alphaOrange, alphaStep, 'rgba(255,127,14,0.5)', 0, 1.2),
        traceSet(alphaRed, alphaStep, 'rgba(214,39,40,0.45)', 0, 1.2),
        rugSet(divergences, -2.56, -1000)
    ])

makeChart('traceAlpha', 'alpha',
    { min: 0, max: 999, ticks: iterTicks, labels: iterLabels },
    { min: -2.56, max: 10.47, ticks: alphaTraceTicks, labels: alphaTraceLabels },
    alphaTraceSets, 0, 9)
</script>
</body>
</html>
